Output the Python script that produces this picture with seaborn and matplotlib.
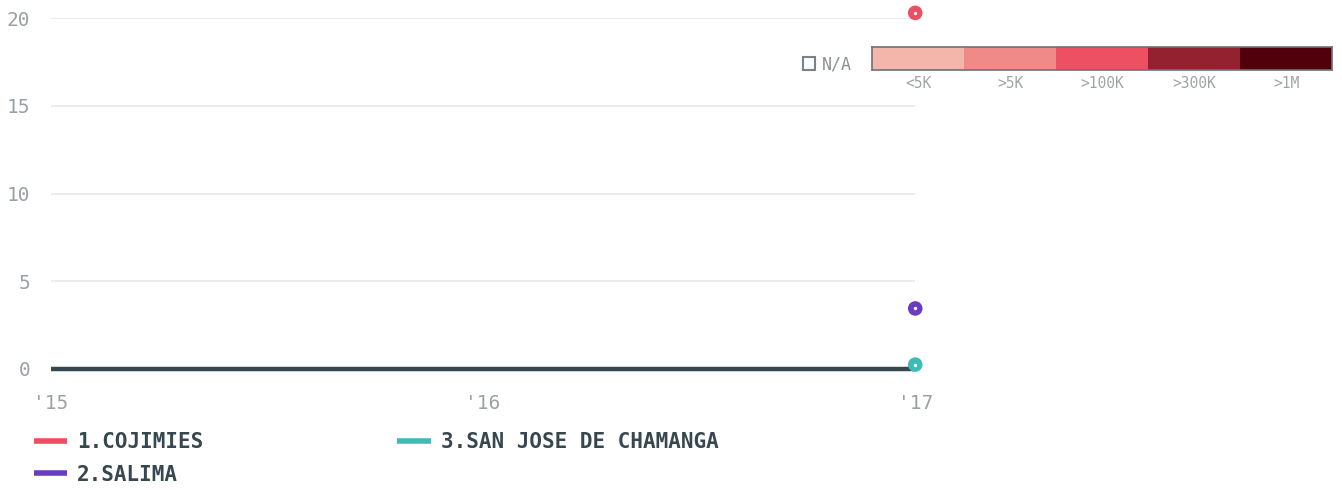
import numpy as np
import pandas as pd
import seaborn as sns
import matplotlib.pyplot as plt
from matplotlib.lines import Line2D

# Données
years = [2015, 2016, 2017]
year_labels = ["'15", "'16", "'17"]
parishes = ["1.COJIMIES", "2.SALIMA", "3.SAN JOSE DE CHAMANGA"]
values_2017 = [20.3, 3.45, 0.25]
colors = ["#ee4d62", "#6a3cc4", "#3dbcb6"]

bins = ["<5K", ">5K", ">100K", ">300K", ">1M"]
bin_colors = ["#f4b6ab", "#f08a88", "#ee5063", "#93212f", "#51000b"]

sns.set_style("white")
plt.rcParams['font.family'] = ['DejaVu Sans Mono', 'DejaVu Sans']

fig = plt.figure(figsize=(13.42, 4.9), dpi=100)
ax = fig.add_axes([0.038, 0.247, 0.644, 0.716])

df = pd.DataFrame({"year": [years[-1]] * 3, "value": values_2017, "parish": parishes})

ax.axhline(0, color="#37474f", lw=3.2, zorder=2, clip_on=False, solid_capstyle="butt")
sns.scatterplot(data=df, x="year", y="value", hue="parish", palette=colors,
                s=110, edgecolor="none", legend=False, ax=ax, zorder=3, clip_on=False)
ax.scatter(df["year"], df["value"], s=2, color="white", zorder=4, clip_on=False)

ax.set_xlim(years[0], years[-1])
ax.set_ylim(0, 20)
ax.set_xticks(years)
ax.set_xticklabels(year_labels)
ax.set_yticks([0, 5, 10, 15, 20])
ax.yaxis.grid(True, color="#e8e8e8", lw=1.2)
ax.set_axisbelow(True)
ax.set_xlabel("")
ax.set_ylabel("")
sns.despine(ax=ax, left=True, bottom=True)
ax.tick_params(axis="both", length=0, labelsize=14, colors="#9aa0a6")
ax.tick_params(axis="y", pad=15)
ax.tick_params(axis="x", pad=18)

# Légende des séries
handles = [Line2D([0], [0], color=c, lw=4, solid_capstyle="butt") for c in colors]
leg = fig.legend(handles, parishes, ncol=2, loc="upper left", bbox_to_anchor=(0.011, 0.157),
                 frameon=False, handlelength=1.6, handletextpad=0.5, columnspacing=9.3,
                 labelspacing=0.62, prop={"size": 15, "weight": "bold"})
for t in leg.get_texts():
    t.set_color("#37474f")

# Légende des couleurs (population)
cax = fig.add_axes([0.6498, 0.857, 0.3428, 0.047])
sns.heatmap(np.arange(len(bins)).reshape(1, -1), cmap=bin_colors, cbar=False,
            xticklabels=bins, yticklabels=False, ax=cax)
for s in cax.spines.values():
    s.set_visible(True)
    s.set_color("#6b7378")
    s.set_linewidth(1.2)
cax.tick_params(axis="x", length=0, labelsize=10.5, colors="#a0a4a8", pad=4, rotation=0)

fig.patches.append(plt.Rectangle((0.5985, 0.857), 0.0089, 0.026, transform=fig.transFigure,
                                 fill=False, edgecolor="#7a8287", lw=1.5))
fig.text(0.6125, 0.869, "N/A", fontsize=12, color="#8a9196", va="center", ha="left")

fig.savefig("out.png", dpi=100)
